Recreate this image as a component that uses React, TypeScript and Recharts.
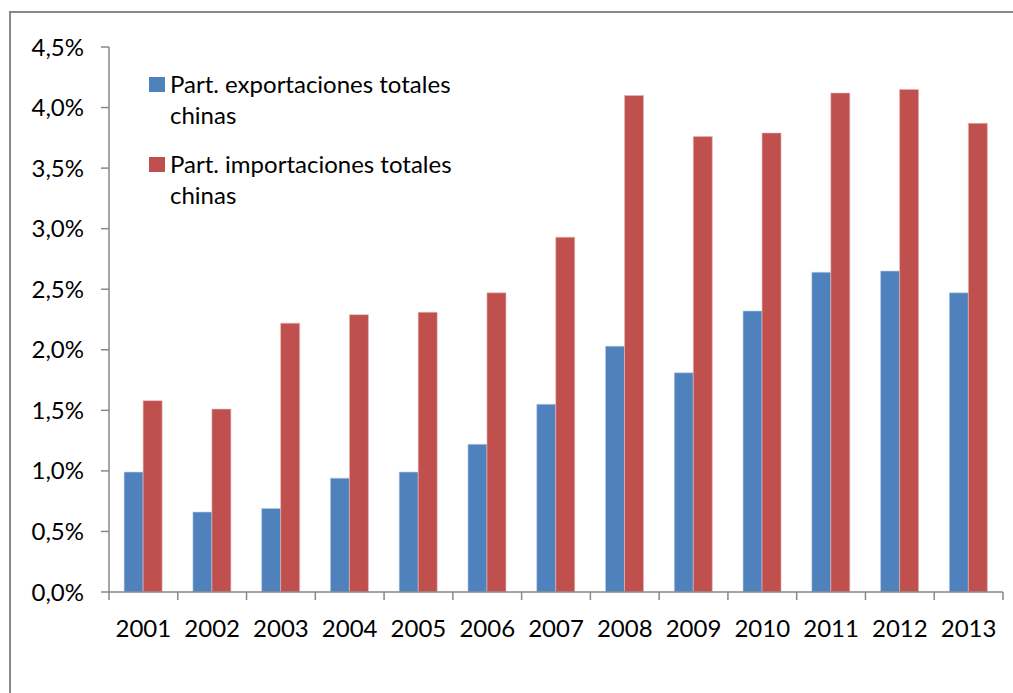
import { BarChart, Bar, XAxis, YAxis, Legend } from 'recharts';

const years = ['2001', '2002', '2003', '2004', '2005', '2006', '2007', '2008', '2009', '2010', '2011', '2012', '2013'];
// share of total Chinese exports / imports, in percent
const exportShare = [0.99, 0.66, 0.69, 0.94, 0.99, 1.22, 1.55, 2.03, 1.81, 2.32, 2.64, 2.65, 2.47];
const importShare = [1.58, 1.51, 2.22, 2.29, 2.31, 2.47, 2.93, 4.1, 3.76, 3.79, 4.12, 4.15, 3.87];
const yTicks = [0, 0.5, 1, 1.5, 2, 2.5, 3, 3.5, 4, 4.5];
const exportLabel = ['Part. exportaciones totales', 'chinas'];
const importLabel = ['Part. importaciones totales', 'chinas'];

const W = 1013;
const H = 693;
const MARGIN = { top: 47, right: 10, bottom: 41, left: 9 };
const Y_WIDTH = 100;
const X_HEIGHT = 60;
const TICK_SIZE = 8;
const X_TICK_MARGIN = 20;
const FONT = 'Lato, "Open Sans", sans-serif';
const FONT_SIZE = 24;
const AXIS = '#878787';
const BLUE = '#4F81BD';
const RED = '#C0504D';

const chartData = years.map((year, i) => ({
  year,
  exp: exportShare[i],
  imp: importShare[i],
}));

const fmtPct = (v: number) => v.toFixed(1).replace('.', ',') + '%';

function YearTick({ x, y, payload, index }: { x?: number; y?: number; payload?: { value: string; offset?: number }; index?: number }) {
  const plotWidth = W - MARGIN.left - Y_WIDTH - MARGIN.right;
  const half = payload?.offset || plotWidth / years.length / 2;
  const cx = x ?? 0;
  const axisY = (y ?? 0) - TICK_SIZE - X_TICK_MARGIN;
  return (
    <g>
      <line x1={cx - half} x2={cx - half} y1={axisY} y2={axisY + TICK_SIZE} stroke={AXIS} strokeWidth={1.5} />
      {index === years.length - 1 && (
        <line x1={cx + half} x2={cx + half} y1={axisY} y2={axisY + TICK_SIZE} stroke={AXIS} strokeWidth={1.5} />
      )}
      <text x={cx} y={y} dy="0.71em" textAnchor="middle" fill="#000" fontSize={FONT_SIZE} fontFamily={FONT}>
        {payload?.value}
      </text>
    </g>
  );
}

function LegendBox() {
  const items = [
    { color: BLUE, lines: exportLabel },
    { color: RED, lines: importLabel },
  ];
  return (
    <div style={{ fontFamily: FONT, fontSize: FONT_SIZE, color: '#000' }}>
      {items.map((it) => (
        <div key={it.color} style={{ display: 'flex', alignItems: 'flex-start', marginBottom: 18 }}>
          <span style={{ width: 16, height: 15, background: it.color, marginTop: 9, marginRight: 5, flexShrink: 0 }} />
          <div style={{ lineHeight: '31px' }}>
            {it.lines.map((l) => (
              <div key={l}>{l}</div>
            ))}
          </div>
        </div>
      ))}
    </div>
  );
}

export default function App() {
  return (
    <div style={{ position: 'fixed', left: 0, top: 0, width: W, height: H, background: '#fff', overflow: 'hidden' }}>
      <div
        style={{
          position: 'absolute',
          left: 9,
          top: 11,
          width: 1100,
          height: 800,
          border: `2px solid ${AXIS}`,
        }}
      />
      <BarChart
        width={W}
        height={H}
        data={chartData}
        margin={MARGIN}
        barGap={0}
        barCategoryGap="22%"
        style={{ position: 'absolute', left: 0, top: 0 }}
      >
        <XAxis
          dataKey="year"
          height={X_HEIGHT}
          tickLine={false}
          tickSize={TICK_SIZE}
          tickMargin={X_TICK_MARGIN}
          axisLine={{ stroke: AXIS, strokeWidth: 1.5 }}
          tick={<YearTick />}
          interval={0}
        />
        <YAxis
          width={Y_WIDTH}
          domain={[0, 4.5]}
          ticks={yTicks}
          tickFormatter={fmtPct}
          tickSize={TICK_SIZE}
          tickMargin={17}
          axisLine={{ stroke: AXIS, strokeWidth: 1.5 }}
          tickLine={{ stroke: AXIS, strokeWidth: 1.5 }}
          tick={{ fill: '#000', fontSize: FONT_SIZE, fontFamily: FONT }}
          interval={0}
        />
        <Legend
          layout="horizontal"
          verticalAlign="middle"
          align="center"
          content={<LegendBox />}
          wrapperStyle={{ position: 'absolute', left: 149, top: 68, width: 360 }}
        />
        <Bar dataKey="exp" name="Part. exportaciones totales chinas" fill={BLUE} stroke="#b9cde5" strokeWidth={0.6} isAnimationActive={false} />
        <Bar dataKey="imp" name="Part. importaciones totales chinas" fill={RED} stroke="#e6b9b8" strokeWidth={0.6} isAnimationActive={false} />
      </BarChart>
    </div>
  );
}
